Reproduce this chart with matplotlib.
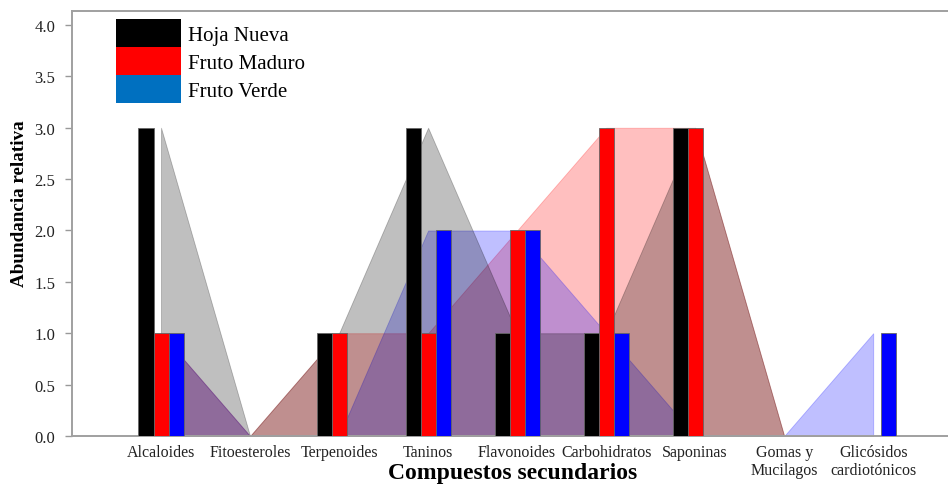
import matplotlib
matplotlib.use("Agg")
import matplotlib.pyplot as plt
from matplotlib.patches import Patch
import numpy as np

categories = ["Alcaloides", "Fitoesteroles", "Terpenoides", "Taninos", "Flavonoides",
              "Carbohidratos", "Saponinas", "Gomas y\nMucilagos", "Glicósidos\ncardiotónicos"]
hoja_nueva = [3, 0, 1, 3, 1, 1, 3, 0, 0]
fruto_maduro = [1, 0, 1, 1, 2, 3, 3, 0, 0]
fruto_verde = [1, 0, 0, 2, 2, 1, 0, 0, 1]
series_names = ["Hoja Nueva", "Fruto Maduro", "Fruto Verde"]
yticks = [0.0, 0.5, 1.0, 1.5, 2.0, 2.5, 3.0, 3.5, 4.0]

plt.rcParams['font.family'] = ['Liberation Serif', 'DejaVu Serif']

fig = plt.figure(figsize=(9.48, 4.85), dpi=100)
ax = fig.add_axes([72/948, 1-437/485, 1-72/948, 425/485])

x = np.arange(len(categories))
w = 0.169
series = [hoja_nueva, fruto_maduro, fruto_verde]
bar_colors = ["#000000", "#ff0000", "#0000ff"]

# areas: red first, then blue, then gray on top
ax.fill_between(x, 0, fruto_maduro, color="#ff0000", alpha=0.25, linewidth=0.6, zorder=1)
ax.fill_between(x, 0, fruto_verde, color="#0000ff", alpha=0.25, linewidth=0.6, zorder=1.1)
ax.fill_between(x, 0, hoja_nueva, color="#000000", alpha=0.25, linewidth=0.6, zorder=1.2)

for i, (vals, c) in enumerate(zip(series, bar_colors)):
    ax.bar(x + (i - 1) * w, vals, width=w, color=c, edgecolor="#666666",
           linewidth=0.6, zorder=3)

ax.set_xlim(-1.0, 8.84)
ax.set_ylim(0, 4.136)
ax.set_yticks(yticks)
ax.set_yticklabels([f"{t:.1f}" for t in yticks])
ax.set_xticks(x)
ax.set_xticklabels(categories, linespacing=1.1)

ax.tick_params(axis='y', length=5, width=1, color='#999999', pad=7, labelsize=12, labelcolor='#222222')
ax.tick_params(axis='x', length=0, pad=6, labelsize=11.5, labelcolor='#222222')

for s in ['left', 'top', 'bottom']:
    ax.spines[s].set_color('#a0a0a0')
    ax.spines[s].set_linewidth(1.4)
ax.spines['right'].set_visible(False)

ax.set_ylabel("Abundancia relativa", fontsize=13.8, fontweight='bold')
ax.yaxis.set_label_coords(-0.050, 0.55)
ax.set_xlabel("Compuestos secundarios", fontsize=17, fontweight='bold')
ax.xaxis.set_label_coords(0.503, -0.062)

handles = [Patch(facecolor="#000000"), Patch(facecolor="#ff0000"), Patch(facecolor="#0070c0")]
fs = 15
fs_px = fs * 100 / 72
hh = (28 / fs_px - 0.245) / 0.65
leg = ax.legend(handles, series_names, loc='upper left', bbox_to_anchor=(0.0502, 0.981),
                frameon=False, fontsize=fs, borderpad=0, borderaxespad=0,
                labelspacing=0, handlelength=65/fs_px, handleheight=hh,
                handletextpad=7/fs_px)

fig.savefig("out.png", dpi=100)
